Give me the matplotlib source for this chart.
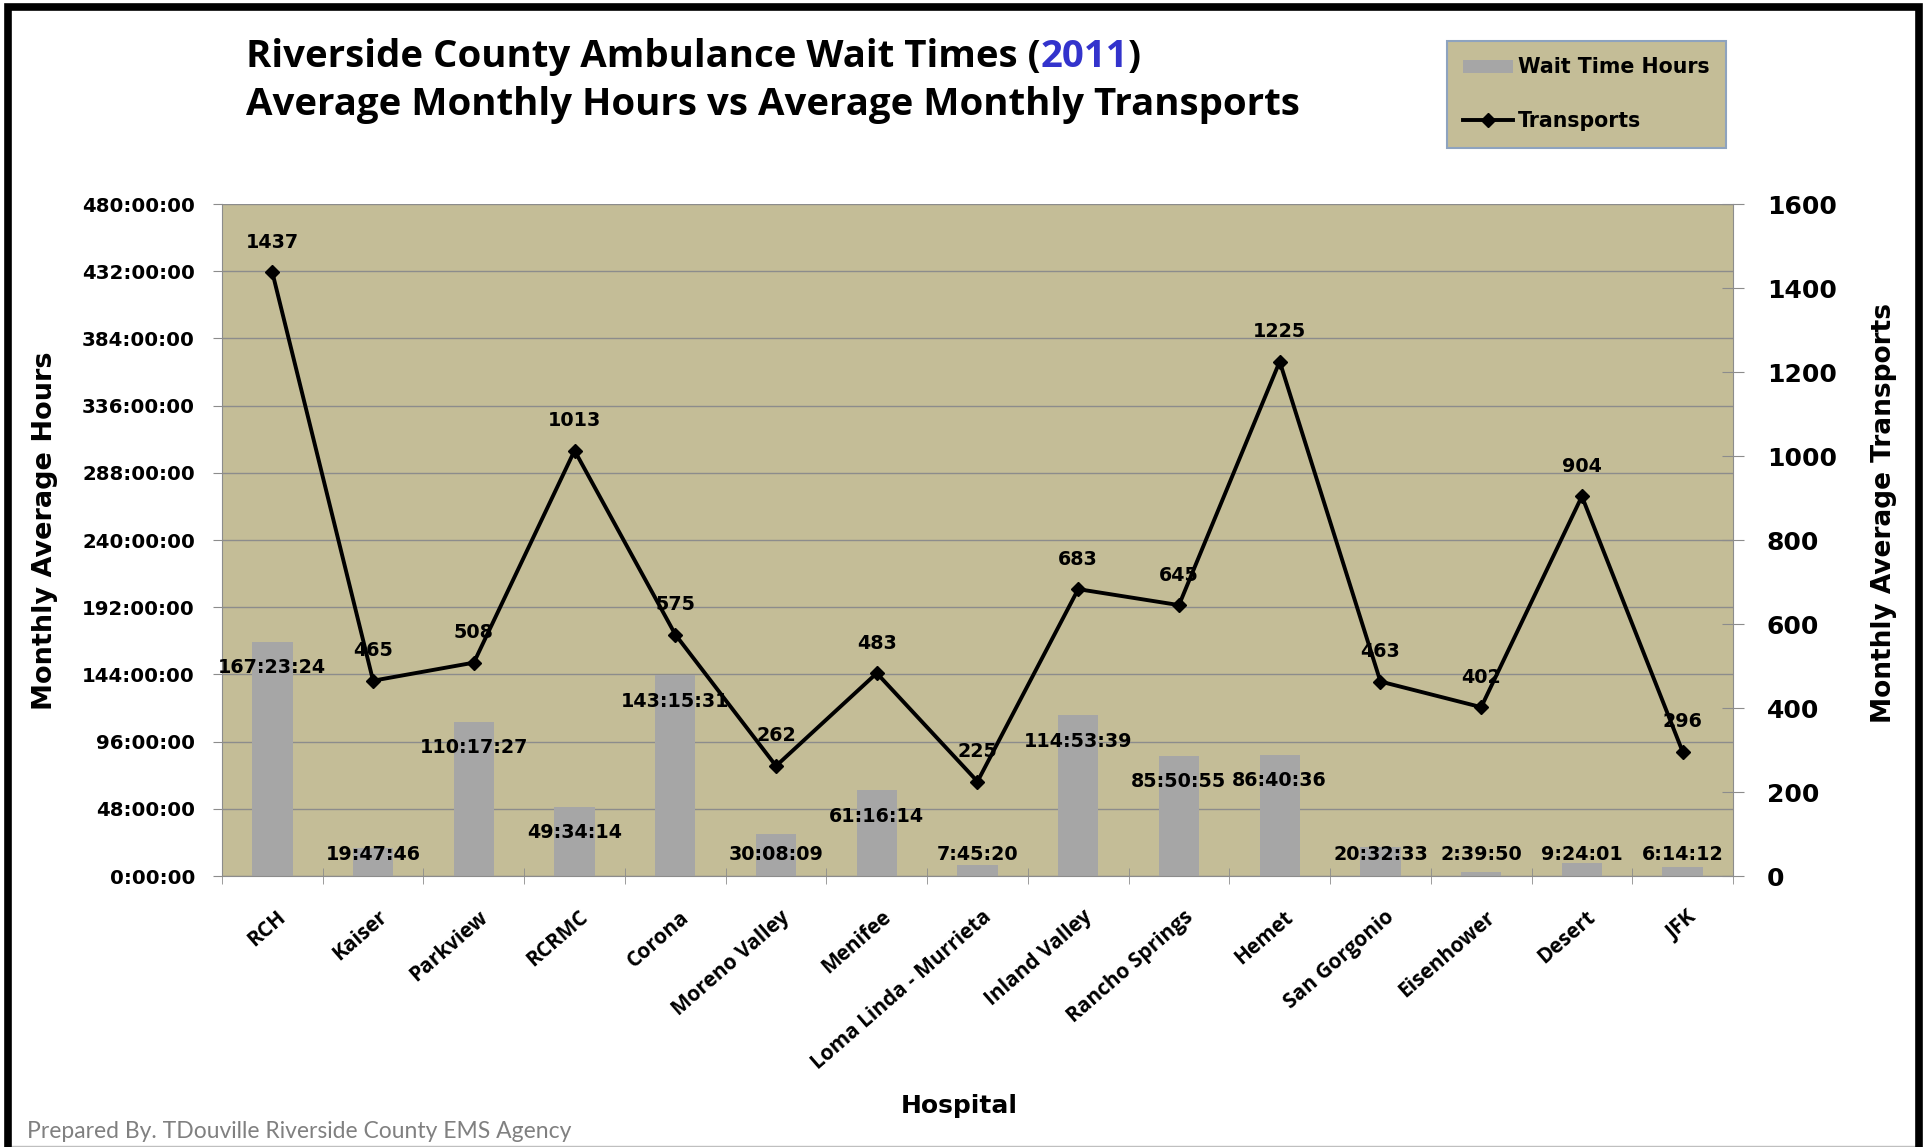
import matplotlib
matplotlib.use("Agg")
import matplotlib.pyplot as plt
import matplotlib.transforms as mtransforms
from matplotlib.patches import Rectangle, Patch
from matplotlib.lines import Line2D
import numpy as np

# chart data
hospitals = ["RCH", "Kaiser", "Parkview", "RCRMC", "Corona", "Moreno Valley", "Menifee",
             "Loma Linda - Murrieta", "Inland Valley", "Rancho Springs", "Hemet",
             "San Gorgonio", "Eisenhower", "Desert", "JFK"]
wait_times = ["167:23:24", "19:47:46", "110:17:27", "49:34:14", "143:15:31", "30:08:09",
              "61:16:14", "7:45:20", "114:53:39", "85:50:55", "86:40:36", "20:32:33",
              "2:39:50", "9:24:01", "6:14:12"]
transports = [1437, 465, 508, 1013, 575, 262, 483, 225, 683, 645, 1225, 463, 402, 904, 296]
hour_ticks = list(range(0, 481, 48))
transport_ticks = list(range(0, 1601, 200))


def to_hours(s):
    h, m, sec = (int(p) for p in s.split(":"))
    return h + m / 60 + sec / 3600


hours = [to_hours(s) for s in wait_times]

KHAKI = "#C4BD97"
BAR = "#A6A6A6"
GRID = "#8C8C8C"
W, H = 1927, 1147

fig = plt.figure(figsize=(W / 100, H / 100), dpi=100)
ax = fig.add_axes([222 / W, 1 - 876 / H, (1733 - 222) / W, (876 - 204) / H])
ax.set_facecolor(KHAKI)

x = np.arange(len(hospitals))
ax.bar(x, hours, width=0.4, color=BAR, zorder=2)
ax.set_xlim(-0.5, len(hospitals) - 0.5)
ax.set_ylim(0, 480)
ax.set_yticks(hour_ticks)
ax.set_yticklabels([f"{h}:00:00" for h in hour_ticks], fontsize=14.2, fontweight="bold")
ax.grid(axis="y", color=GRID, lw=1)
ax.set_axisbelow(True)
ax.tick_params(axis="y", direction="out", length=6.5, color=GRID, pad=13)

# category labels, ticks sit between the categories
ax.set_xticks(x)
ax.set_xticklabels(hospitals, rotation=41, ha="right", rotation_mode="anchor",
                   fontsize=15, fontweight="bold", family="Open Sans")
ax.tick_params(axis="x", which="major", length=0, pad=22)
ax.set_xticks(np.arange(-0.5, len(hospitals)), minor=True)
ax.tick_params(axis="x", which="minor", direction="inout", length=11, color=GRID)
shift = mtransforms.ScaledTranslation(3 / 72, 0, fig.dpi_scale_trans)
for lab in ax.get_xticklabels():
    lab.set_transform(lab.get_transform() + shift)

for side in ["top", "right"]:
    ax.spines[side].set_visible(False)
for side in ["left", "bottom"]:
    ax.spines[side].set_color(GRID)

# bar labels: inside the top of the bar, or resting near the axis for short bars
for i, (h, s) in enumerate(zip(hours, wait_times)):
    if h > 34:
        ax.annotate(s, (i, h), xytext=(0, -18.7), textcoords="offset points",
                    ha="center", va="center", fontsize=13.8, fontweight="bold", zorder=4)
    else:
        ax.annotate(s, (i, 0), xytext=(0, 15.8), textcoords="offset points",
                    ha="center", va="center", fontsize=13.8, fontweight="bold", zorder=4)

### TRANSPORTS LINE
ax2 = ax.twinx()
ax2.plot(x, transports, color="black", lw=2.8, marker="D", ms=7.5, zorder=3)
ax2.set_ylim(0, 1600)
ax2.set_yticks(transport_ticks)
ax2.set_yticklabels([str(t) for t in transport_ticks], fontsize=18, fontweight="bold")
ax2.tick_params(axis="y", direction="inout", length=16.5, color=GRID, pad=16)
for side in ["top", "left", "bottom"]:
    ax2.spines[side].set_visible(False)
ax2.spines["right"].set_color(GRID)

for i, v in enumerate(transports):
    ax2.annotate(str(v), (i, v), xytext=(0, 21.6), textcoords="offset points",
                 ha="center", va="center", fontsize=13.8, fontweight="bold")

### LEGEND
handles = [Patch(facecolor=BAR, label="Wait Time Hours"),
           Line2D([], [], color="black", lw=2.8, marker="D", ms=7, label="Transports")]
leg = fig.legend(handles=handles, loc="upper left", bbox_to_anchor=(1447 / W, 1 - 41 / H),
                 frameon=True, fancybox=False, facecolor=KHAKI, edgecolor="#8EA3BF",
                 framealpha=1, prop={"weight": "bold", "size": 14.8}, handlelength=2.4,
                 handleheight=0.6, labelspacing=1.65, borderpad=0.8, handletextpad=0.25,
                 borderaxespad=0)
leg.get_frame().set_linewidth(1.5)

### TITLE
title_font = dict(fontsize=27.6, family="Open Sans", fontweight="bold", va="bottom", ha="left")
t1 = fig.text(246 / W, 1 - 76 / H, "Riverside County Ambulance Wait Times (", **title_font)
t2 = ax.annotate("2011", xy=(1, 0), xycoords=t1, color="#3333CC", **title_font)
ax.annotate(")", xy=(1, 0), xycoords=t2, **title_font)
fig.text(246 / W, 1 - 124 / H, "Average Monthly Hours vs Average Monthly Transports", **title_font)

# axis titles and footer
fig.text(45 / W, 1 - 531 / H, "Monthly Average Hours", rotation=90, ha="center", va="center",
         fontsize=19.5, fontweight="bold")
fig.text(1884 / W, 1 - 513 / H, "Monthly Average Transports", rotation=90, ha="center",
         va="center", fontsize=19, fontweight="bold")
fig.text(959 / W, 1 - 1106 / H, "Hospital", ha="center", va="center", fontsize=18,
         fontweight="bold")
fig.text(27 / W, 1 - 1132 / H, "Prepared By. TDouville Riverside County EMS Agency",
         color="#808080", family="Lato", fontsize=16.5, va="center")

# black frame round the picture
fig.add_artist(Rectangle((8 / W, -0.05), (1919 - 8) / W, 1.05 - 7 / H, transform=fig.transFigure,
                         fill=False, ec="black", lw=5.5, zorder=10))
fig.add_artist(Line2D([12 / W, 1915 / W], [1.5 / H, 1.5 / H], transform=fig.transFigure,
                      color="#BFBFBF", lw=1))

fig.savefig("out.png", dpi=100)
